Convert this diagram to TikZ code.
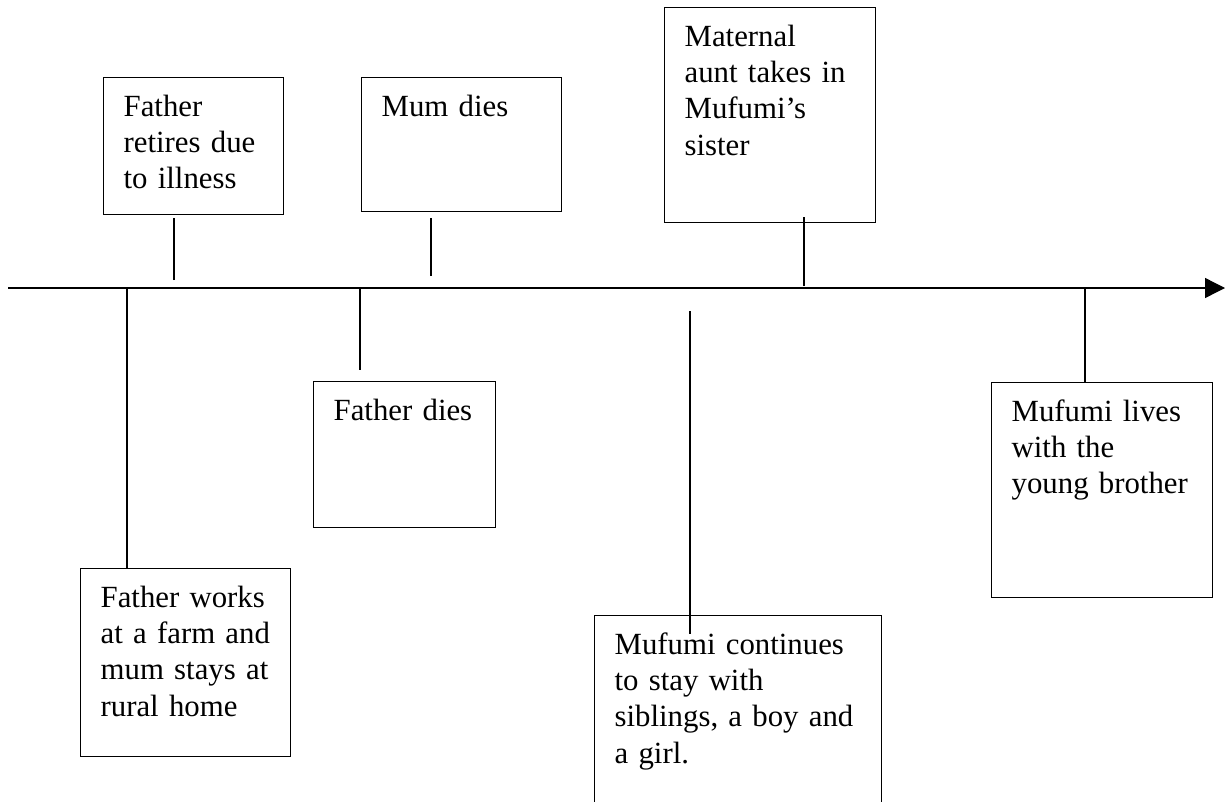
\documentclass[tikz,border=0pt]{standalone}
\usepackage{fontspec}
\setmainfont{Liberation Serif}
\usetikzlibrary{arrows.meta}
\begin{document}
\begin{tikzpicture}[x=1pt,y=-1pt,
  every node/.style={font=\fontsize{30.8}{36.3}\selectfont},
  event/.style={draw,line width=1.3pt,anchor=north west,inner xsep=20pt,inner ysep=0pt,align=left,text height=38.5pt},
  tick/.style={line width=1.2pt}]
\clip (0,0) rectangle (1231,801);
% time line with the events of Mufumi's family
\coordinate (start) at (8,288);
\coordinate (end) at (1225,288);
\draw[line width=1.3pt,-{Triangle[length=20pt,width=20pt]}] (start) -- (end);
% above the line
\node[event,text width=140pt,text depth=98.5pt] (retire) at (103,77) {Father\\retires due\\to illness};
\node[event,text width=160pt,text depth=95.5pt] (mum) at (361,77) {Mum dies};
\node[event,text width=171pt,text depth=176.5pt] (aunt) at (664,7) {Maternal\\aunt takes in\\Mufumi’s\\sister};
% below the line
\node[event,text width=170pt,text depth=149.5pt] (works) at (80,568) {Father works\\at a farm and\\mum stays at\\rural home};
\node[event,text width=142pt,text depth=107.5pt] (fdies) at (313,381) {Father dies};
\node[event,text width=247pt,text depth=221.5pt] (cont) at (594,615) {Mufumi continues\\to stay with\\siblings, a boy and\\a girl.};
\node[event,text width=181pt,text depth=176.5pt] (lives) at (991,382) {Mufumi lives\\with the\\young brother};
% ticks
\coordinate (c-works) at (127,288);
\coordinate (c-retire) at (174,280);
\coordinate (c-fdies) at (360,288);
\coordinate (c-mum) at (431,276);
\coordinate (c-cont) at (690,311);
\coordinate (c-aunt) at (804,286);
\coordinate (c-lives) at (1085,288);
\draw[tick] (c-works) -- (c-works |- works.north);
\draw[tick] (c-retire) -- ++(0,-62);
\draw[tick] (c-fdies) -- ++(0,82);
\draw[tick] (c-mum) -- ++(0,-58);
\draw[tick] (c-cont) -- ++(0,323);
\draw[tick] (c-aunt) -- ++(0,-69);
\draw[tick] (c-lives) -- (c-lives |- lives.north);
\end{tikzpicture}
\end{document}
